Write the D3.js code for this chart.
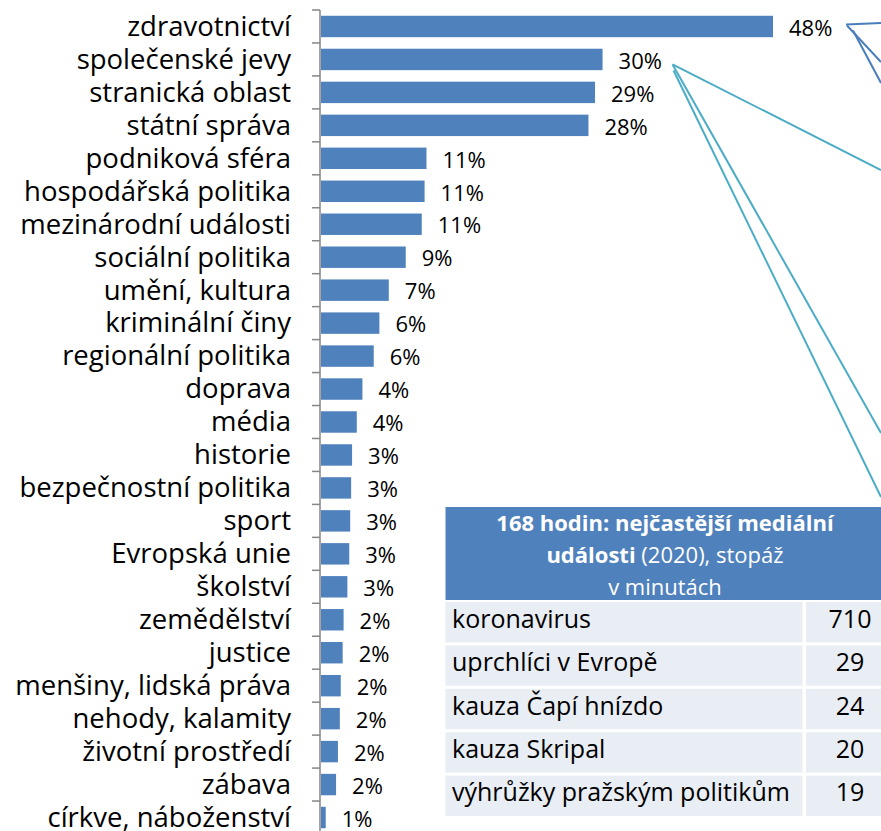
<!DOCTYPE html>
<html>
<head>
<meta charset="utf-8">
<script src="https://cdn.jsdelivr.net/npm/d3@7"></script>
<style>
  body { margin: 0; background: #fff; }
  svg text { font-family: "Open Sans", "Noto Sans", sans-serif; }
</style>
</head>
<body>
<div id="chart"></div>
<script>
(function() {
  var categories = [
    'zdravotnictví', 'společenské jevy', 'stranická oblast', 'státní správa',
    'podniková sféra', 'hospodářská politika', 'mezinárodní události',
    'sociální politika', 'umění, kultura', 'kriminální činy',
    'regionální politika', 'doprava', 'média', 'historie',
    'bezpečnostní politika', 'sport', 'Evropská unie', 'školství',
    'zemědělství', 'justice', 'menšiny, lidská práva', 'nehody, kalamity',
    'životní prostředí', 'zábava', 'církve, náboženství'
  ];
  var shares = [
    48, 29.9, 29.1, 28.4, 11.2, 11.0, 10.7, 9.0, 7.2, 6.2, 5.6, 4.4, 3.8,
    3.3, 3.2, 3.1, 3.0, 2.8, 2.4, 2.3, 2.1, 2.0, 1.8, 1.6, 0.5
  ];

  var tableTitle = ['168 hodin: nejčastější mediální', 'události', ' (2020), stopáž', 'v minutách'];
  var events = ['koronavirus', 'uprchlíci v Evropě', 'kauza Čapí hnízdo', 'kauza Skripal', 'výhrůžky pražským politikům'];
  var minutes = [710, 29, 24, 20, 19];

  var width = 881, height = 831;
  var barColour = '#4f81bd';

  var svg = d3.select('#chart')
    .append('svg')
    .attr('width', width)
    .attr('height', height);

  var x = d3.scaleLinear().domain([0, 48]).range([321, 773]);
  var y = d3.scaleBand().domain(categories).range([10, 834]).paddingInner(0.35).paddingOuter(0.175);

  // bars
  svg.selectAll('rect.bar')
    .data(categories)
    .enter()
    .append('rect')
    .attr('class', 'bar')
    .attr('x', x(0))
    .attr('y', function(d) { return y(d); })
    .attr('width', function(d, i) { return x(shares[i]) - x(0); })
    .attr('height', y.bandwidth())
    .attr('fill', barColour);

  // value labels
  svg.selectAll('text.value')
    .data(categories)
    .enter()
    .append('text')
    .attr('class', 'value')
    .attr('x', function(d, i) { return x(shares[i]) + 16; })
    .attr('y', function(d) { return y(d) + y.bandwidth() / 2; })
    .attr('dy', '0.42em')
    .attr('font-size', 22)
    .attr('fill', '#000')
    .text(function(d, i) { return Math.round(shares[i]) + '%'; });

  // category axis
  var axis = svg.append('g')
    .attr('transform', 'translate(320,0)');
  axis.append('line')
    .attr('x1', 0).attr('x2', 0)
    .attr('y1', 10).attr('y2', height)
    .attr('stroke', '#868686')
    .attr('stroke-width', 1.5);
  var step = y.step();
  axis.selectAll('line.tick')
    .data(categories)
    .enter()
    .append('line')
    .attr('class', 'tick')
    .attr('x1', -8).attr('x2', 0)
    .attr('y1', function(d) { return y(d) - step * 0.175; })
    .attr('y2', function(d) { return y(d) - step * 0.175; })
    .attr('stroke', '#868686')
    .attr('stroke-width', 1.5);
  axis.selectAll('text.cat')
    .data(categories)
    .enter()
    .append('text')
    .attr('class', 'cat')
    .attr('x', -29)
    .attr('y', function(d) { return y(d) + y.bandwidth() / 2; })
    .attr('dy', '0.34em')
    .attr('text-anchor', 'end')
    .attr('font-size', 27.5)
    .attr('fill', '#000')
    .text(function(d) { return d; });

  // leader lines running off to the right
  var lx48 = x(shares[0]) + 73, ly48 = y(categories[0]) + y.bandwidth() / 2 - 2;
  var lx30 = x(shares[1]) + 70, ly30 = y(categories[1]) + y.bandwidth() / 2 + 5;
  var leaders = [
    { from: [lx48, ly48], to: [width, 23], colour: '#4a7ebb' },
    { from: [lx48 + 1, ly48 + 1], to: [width, 62], colour: '#4a7ebb' },
    { from: [lx48 + 7, ly48 + 6], to: [width, 83], colour: '#4a7ebb' },
    { from: [lx30, ly30], to: [width, 170], colour: '#4bacc6' },
    { from: [lx30, ly30], to: [width, 433], colour: '#4bacc6' },
    { from: [lx30 + 1, ly30 + 6], to: [width, 497], colour: '#4bacc6' }
  ];
  svg.selectAll('line.leader')
    .data(leaders)
    .enter()
    .append('line')
    .attr('class', 'leader')
    .attr('x1', function(d) { return d.from[0]; })
    .attr('y1', function(d) { return d.from[1]; })
    .attr('x2', function(d) { return d.to[0]; })
    .attr('y2', function(d) { return d.to[1]; })
    .attr('stroke', function(d) { return d.colour; })
    .attr('stroke-width', 2);

  // table
  var tx = 445.5, tw = 445, headTop = 507, headH = 93;
  var rowY = d3.scaleBand().domain(events).range([602, 816]).paddingInner(0.07);
  var table = svg.append('g');
  table.append('rect')
    .attr('x', tx).attr('y', headTop)
    .attr('width', tw).attr('height', headH)
    .attr('fill', barColour);
  var title = table.append('text')
    .attr('x', 665)
    .attr('text-anchor', 'middle')
    .attr('fill', '#fff')
    .attr('font-size', 22);
  title.append('tspan').attr('x', 665).attr('y', 531).attr('font-weight', 'bold').text(tableTitle[0]);
  var t2 = title.append('tspan').attr('x', 665).attr('y', 563);
  t2.append('tspan').attr('font-weight', 'bold').text(tableTitle[1]);
  t2.append('tspan').text(tableTitle[2]);
  title.append('tspan').attr('x', 665).attr('y', 595).text(tableTitle[3]);

  table.selectAll('rect.cell1')
    .data(events)
    .enter()
    .append('rect')
    .attr('class', 'cell1')
    .attr('x', tx).attr('y', function(d) { return rowY(d); })
    .attr('width', 357).attr('height', rowY.bandwidth())
    .attr('fill', '#e9edf4');
  table.selectAll('rect.cell2')
    .data(events)
    .enter()
    .append('rect')
    .attr('class', 'cell2')
    .attr('x', 806).attr('y', function(d) { return rowY(d); })
    .attr('width', 100).attr('height', rowY.bandwidth())
    .attr('fill', '#e9edf4');
  table.selectAll('text.ev')
    .data(events)
    .enter()
    .append('text')
    .attr('class', 'ev')
    .attr('x', 452)
    .attr('y', function(d) { return rowY(d) + rowY.bandwidth() / 2; })
    .attr('dy', '0.22em')
    .attr('font-size', 25)
    .attr('fill', '#000')
    .text(function(d) { return d; });
  table.selectAll('text.min')
    .data(events)
    .enter()
    .append('text')
    .attr('class', 'min')
    .attr('x', 850)
    .attr('y', function(d) { return rowY(d) + rowY.bandwidth() / 2; })
    .attr('dy', '0.22em')
    .attr('text-anchor', 'middle')
    .attr('font-size', 25)
    .attr('fill', '#000')
    .text(function(d, i) { return minutes[i]; });
}());
</script>
</body>
</html>
